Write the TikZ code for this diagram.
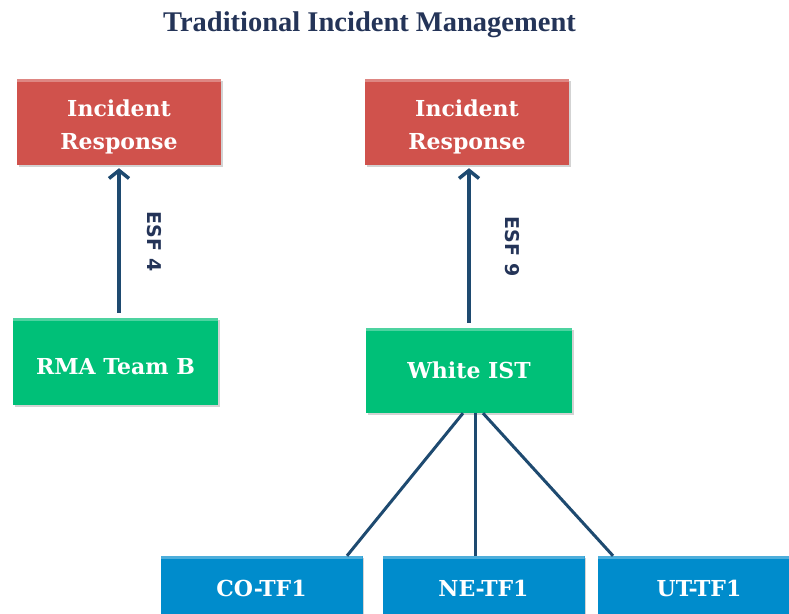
\documentclass[tikz,border=0pt]{standalone}
\usepackage{fontspec}
\usepackage{xcolor}
\usepackage{tikz}
\usetikzlibrary{arrows.meta}
\usetikzlibrary{shadows,positioning}

\newfontfamily\boxfont{DejaVu Serif}
\newfontfamily\titlefont{Liberation Serif}
\newfontfamily\esffont{DejaVu Sans}

\definecolor{irred}{RGB}{208,82,76}
\definecolor{istgreen}{RGB}{0,192,120}
\definecolor{tfblue}{RGB}{0,140,204}
\definecolor{linenavy}{RGB}{30,74,112}
\definecolor{titlenavy}{RGB}{36,52,88}

\tikzset{
	box/.style={minimum width=204pt, minimum height=86pt, inner sep=0pt, align=center,
		text=white, font=\boxfont\bfseries\fontsize{22}{33}\selectfont,
		drop shadow={opacity=0.35, shadow xshift=1.5pt, shadow yshift=-2pt},
		path picture={\fill[white,opacity=0.3] (path picture bounding box.north west)
			rectangle ([yshift=-3pt]path picture bounding box.north east);}},
	respbox/.style={box, fill=irred},
	teambox/.style={box, fill=istgreen},
	tfbox/.style={box, fill=tfblue, minimum width=202pt, minimum height=64pt},
	flow/.style={line width=3.5pt, color=linenavy, -{Straight Barb[length=8pt,width=20pt]},
		shorten >=3pt, shorten <=5pt},
	link/.style={line width=3pt, color=linenavy},
	esf/.style={rotate=-90, text=titlenavy, font=\esffont\bfseries\fontsize{19}{19}\selectfont}
}

\begin{document}
\begin{tikzpicture}[x=1pt,y=-1pt]
	\useasboundingbox (0,0) rectangle (789,613);
	\clip (0,0) rectangle (789,613);
	\node[anchor=base, text=titlenavy, font=\titlefont\bfseries\fontsize{28.5}{28.5}\selectfont] (title) at (369.5,31) {Traditional Incident Management};
	% top row
	\node[respbox] (ir1) at (119,122) {\rule{0pt}{26pt}Incident\\Response};
	\node[respbox] (ir2) at (467,122) {\rule{0pt}{26pt}Incident\\Response};
	% teams
	\node[teambox, minimum width=205pt, minimum height=87pt] (rma) at (115.5,361.5) {\rule{0pt}{26pt}RMA Team B};
	\node[teambox, minimum width=206pt, minimum height=85pt] (wist) at (469,370.5) {White IST};
	\draw[flow] (ir1.south |- rma.north) -- (ir1.south) node[esf, midway, yshift=35pt] {ESF 4};
	\draw[flow] (wist.north |- wist.north) -- (wist.north |- ir2.south) node[esf, midway, yshift=43pt] {ESF 9};
	% task forces
	\foreach \n/\x/\t in {co/261.5/CO-TF1, ne/483.5/NE-TF1, ut/699/UT-TF1}
	{
		\node[tfbox] (\n) at (\x,588) {\t};
	}
	\foreach \n/\a/\b in {co/-6/85.5, ne/6/-8.5, ut/14/-86}
	{
		\draw[link] ([xshift=\a pt]wist.south) -- ([xshift=\b pt]\n.north);
	}
\end{tikzpicture}
\end{document}
